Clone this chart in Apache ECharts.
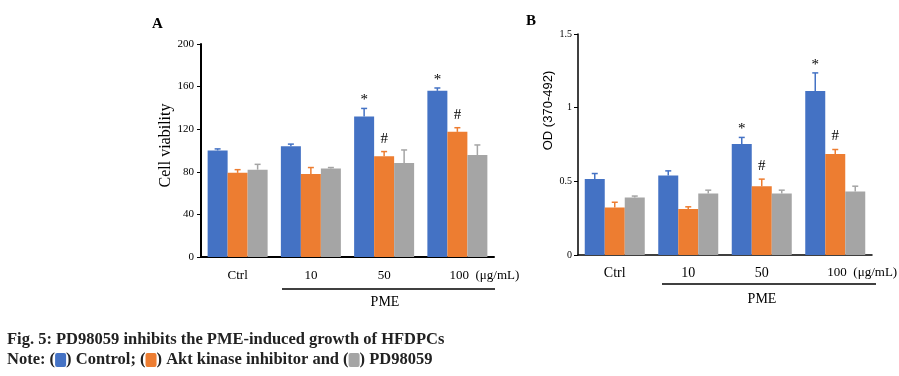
<!DOCTYPE html>
<html>
<head>
<meta charset="utf-8">
<script src="https://cdn.jsdelivr.net/npm/echarts@6/dist/echarts.min.js"></script>
<style>
  html, body { margin: 0; padding: 0; background: #fff; }
  #chart { width: 899px; height: 376px; }
</style>
</head>
<body>
<div id="chart"></div>
<script>
// categories
var doses = ['Ctrl', '10', '50', '100'];

// panel A - cell viability (mean, mean + sd)
var ctrlA = [100, 104, 132, 156];
var ctrlErrA = [101.5, 106, 139.5, 158.7];
var aktA = [79, 78, 94.5, 117.5];
var aktErrA = [82, 84, 99, 121.4];
var pdA = [82, 83, 88.3, 95.8];
var pdErrA = [87, 84, 100.5, 105.2];
var ctrlMarkA = ['', '', '*', '*'];
var aktMarkA = ['', '', '#', '#'];

// panel B - OD (370-492)
var ctrlB = [0.515, 0.54, 0.753, 1.113];
var ctrlErrB = [0.553, 0.571, 0.798, 1.236];
var aktB = [0.322, 0.313, 0.467, 0.685];
var aktErrB = [0.358, 0.327, 0.515, 0.716];
var pdB = [0.39, 0.417, 0.417, 0.431];
var pdErrB = [0.40, 0.44, 0.44, 0.467];
var ctrlMarkB = ['', '', '*', '*'];
var aktMarkB = ['', '', '#', '#'];

var BLUE = '#4472C4', ORANGE = '#ED7D31', GRAY = '#A5A5A5';
var SERIF = 'Liberation Serif';
var BAR_W = 20;

var chartDom = document.getElementById('chart');
var myChart = echarts.init(chartDom);

function barSeries(name, idx, values, color) {
  return {
    name: name,
    type: 'bar',
    xAxisIndex: idx,
    yAxisIndex: idx,
    barWidth: BAR_W,
    barGap: '0%',
    itemStyle: { color: color },
    data: values,
    z: 2
  };
}

// error bar + significance mark, k = position of the bar in its group (0,1,2)
function errSeries(idx, k, values, errs, marks, color) {
  var data = values.map(function (v, i) {
    return [i, v, errs[i], marks ? marks[i] : ''];
  });
  return {
    type: 'custom',
    xAxisIndex: idx,
    yAxisIndex: idx,
    z: 3,
    silent: true,
    data: data,
    encode: { x: 0, y: [1, 2] },
    renderItem: function (params, api) {
      var c = api.value(0);
      var top = api.coord([c, api.value(1)]);
      var hi = api.coord([c, api.value(2)]);
      var x = top[0] + (k - 1) * BAR_W;
      var mark = data[params.dataIndex][3];
      var children = [
        { type: 'line', shape: { x1: x, y1: top[1], x2: x, y2: hi[1] },
          style: { stroke: color, lineWidth: 1.5 } },
        { type: 'line', shape: { x1: x - 3, y1: hi[1], x2: x + 3, y2: hi[1] },
          style: { stroke: color, lineWidth: 1.5 } }
      ];
      if (mark) {
        children.push({
          type: 'text',
          style: {
            text: mark, x: x, y: hi[1] - (mark === '*' ? 8 : 13),
            align: 'center', verticalAlign: 'middle',
            font: '15px ' + SERIF, fill: '#000'
          }
        });
      }
      return { type: 'group', children: children };
    }
  };
}

function xAxisFor(idx, margin) {
  var fs = idx === 0 ? 13 : 14;
  return {
    type: 'category',
    gridIndex: idx,
    data: doses,
    axisLine: { lineStyle: { color: '#000', width: idx === 0 ? 2 : 1.5 } },
    axisTick: { alignWithLabel: true, length: 5, lineStyle: { color: '#000' } },
    axisLabel: {
      interval: 0,
      hideOverlap: false,
      margin: margin,
      color: '#000',
      fontFamily: SERIF,
      fontSize: fs,
      formatter: function (v) {
        return v === '100' ? '{u|100  (μg/mL)}' : v;
      },
      rich: {
        u: { padding: [0, 0, 0, 54], fontFamily: SERIF, fontSize: 13, color: '#000' }
      }
    }
  };
}

var option = {
  animation: false,
  backgroundColor: '#fff',
  grid: [
    { left: 201, top: 44, width: 293, height: 213, outerBoundsMode: 'none' },
    { left: 578, top: 34, width: 294, height: 221, outerBoundsMode: 'none' }
  ],
  xAxis: [xAxisFor(0, 12), xAxisFor(1, 11)],
  yAxis: [
    {
      type: 'value', gridIndex: 0, min: 0, max: 200, interval: 40,
      name: 'Cell viability', nameLocation: 'middle', nameGap: 27,
      nameTextStyle: { fontFamily: SERIF, fontSize: 16, color: '#000', padding: [0, 0, 0, 10] },
      axisLine: { show: true, lineStyle: { color: '#000', width: 2 } },
      axisTick: { show: true, length: 4, lineStyle: { color: '#000' } },
      axisLabel: { margin: 7, color: '#000', fontFamily: SERIF, fontSize: 11 },
      splitLine: { show: false }
    },
    {
      type: 'value', gridIndex: 1, min: 0, max: 1.5, interval: 0.5,
      name: 'OD (370-492)', nameLocation: 'middle', nameGap: 23,
      nameTextStyle: { fontFamily: 'Liberation Sans', fontSize: 13, color: '#000', padding: [0, 0, 0, 68] },
      axisLine: { show: true, lineStyle: { color: '#000', width: 1.5 } },
      axisTick: { show: true, length: 4, lineStyle: { color: '#000' } },
      axisLabel: { margin: 6, color: '#000', fontFamily: SERIF, fontSize: 10 },
      splitLine: { show: false }
    }
  ],
  series: [
    barSeries('Control', 0, ctrlA, BLUE),
    barSeries('Akt kinase inhibitor', 0, aktA, ORANGE),
    barSeries('PD98059', 0, pdA, GRAY),
    errSeries(0, 0, ctrlA, ctrlErrA, ctrlMarkA, BLUE),
    errSeries(0, 1, aktA, aktErrA, aktMarkA, ORANGE),
    errSeries(0, 2, pdA, pdErrA, null, GRAY),
    barSeries('Control', 1, ctrlB, BLUE),
    barSeries('Akt kinase inhibitor', 1, aktB, ORANGE),
    barSeries('PD98059', 1, pdB, GRAY),
    errSeries(1, 0, ctrlB, ctrlErrB, ctrlMarkB, BLUE),
    errSeries(1, 1, aktB, aktErrB, aktMarkB, ORANGE),
    errSeries(1, 2, pdB, pdErrB, null, GRAY)
  ],
  graphic: [
    // panel letters
    { type: 'text', left: 152, top: 17,
      style: { text: 'A', font: 'bold 15px ' + SERIF, fill: '#000' } },
    { type: 'text', left: 526, top: 14,
      style: { text: 'B', font: 'bold 15px ' + SERIF, fill: '#000' } },
    // PME brackets
    { type: 'line', shape: { x1: 282, y1: 289, x2: 495, y2: 289 },
      style: { stroke: '#000', lineWidth: 1.5 } },
    { type: 'text', x: 385, y: 302,
      style: { text: 'PME', font: '14px ' + SERIF, fill: '#000', align: 'center', verticalAlign: 'middle' } },
    { type: 'line', shape: { x1: 662, y1: 284, x2: 876, y2: 284 },
      style: { stroke: '#000', lineWidth: 1.5 } },
    { type: 'text', x: 762, y: 299,
      style: { text: 'PME', font: '14px ' + SERIF, fill: '#000', align: 'center', verticalAlign: 'middle' } },
    // caption
    { type: 'text', x: 7, y: 340,
      style: { text: 'Fig. 5: PD98059 inhibits the PME-induced growth of HFDPCs',
               font: 'bold 16.5px ' + SERIF, fill: '#222', verticalAlign: 'middle' } },
    { type: 'text', x: 7, y: 360,
      style: {
        text: '{t|Note: (}{b| }{t|) Control; (}{o| }{t|) Akt kinase inhibitor and (}{g| }{t|) PD98059}',
        verticalAlign: 'middle',
        rich: {
          t: { font: 'bold 16.5px ' + SERIF, fill: '#222' },
          b: { backgroundColor: BLUE, width: 11, height: 14, borderRadius: 2 },
          o: { backgroundColor: ORANGE, width: 11, height: 14, borderRadius: 2 },
          g: { backgroundColor: GRAY, width: 11, height: 14, borderRadius: 2 }
        }
      } }
  ]
};

option && myChart.setOption(option);
</script>
</body>
</html>
